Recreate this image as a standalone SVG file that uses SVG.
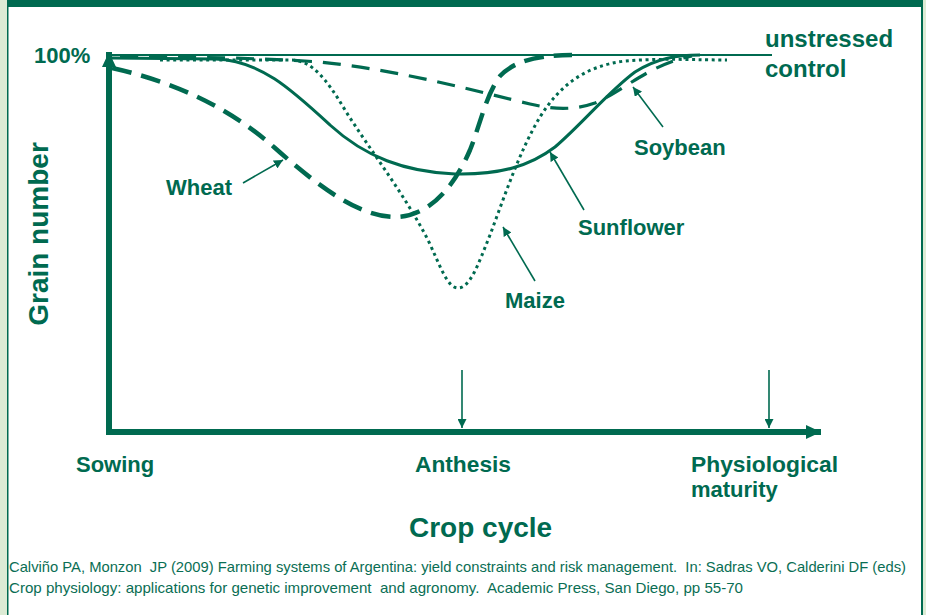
<svg xmlns="http://www.w3.org/2000/svg" width="926" height="615" viewBox="0 0 926 615">
<style>
.lbl{font-family:"Liberation Sans",Arial,sans-serif;font-weight:bold;fill:#006a50;}
.cite{font-family:"Liberation Sans Narrow","Liberation Sans",Arial,sans-serif;font-size:15px;fill:#0a6e54;white-space:pre;}
.curve{fill:none;stroke:#006a50;stroke-linejoin:round;}
.ann{fill:none;stroke:#006a50;stroke-width:1.6;}
</style>
<defs>
<marker id="ah" viewBox="0 0 10 10" refX="10" refY="5" markerWidth="9" markerHeight="9" markerUnits="userSpaceOnUse" orient="auto">
<path d="M0,0 L10,5 L0,10 z" fill="#006a50"/>
</marker>
<marker id="axh" viewBox="0 0 10 10" refX="10" refY="5" markerWidth="15" markerHeight="14" markerUnits="userSpaceOnUse" orient="auto" preserveAspectRatio="none">
<path d="M0,0 L10,5 L0,10 z" fill="#006a50"/>
</marker>
</defs>
<rect x="0" y="0" width="926" height="615" fill="#ffffff"/>
<!-- frame -->
<g id="frame">
<rect x="0" y="0" width="7" height="615" fill="#dcebd5"/>
<rect x="7" y="0" width="1.5" height="615" fill="#006a50"/>
<rect x="923" y="0" width="3" height="615" fill="#dcebd5"/>
<rect x="921" y="0" width="2" height="615" fill="#006a50"/>
<rect x="8" y="0" width="914" height="7" fill="#006a50"/>
</g>
<!-- axes -->
<g id="axes">
<line x1="109" y1="435" x2="109" y2="52" stroke="#006a50" stroke-width="6" marker-end="url(#axh)"/>
<line x1="106" y1="432" x2="821" y2="432" stroke="#006a50" stroke-width="6" marker-end="url(#axh)"/>
<line x1="112" y1="55" x2="772" y2="55" stroke="#006a50" stroke-width="2.2"/>
</g>
<!-- curves -->
<g id="curves">
<path id="sunflower" class="curve" stroke-width="3" d="M112,58 L215,59 C260,60 292,90 330,125 C365,157 405,172 455,174 C500,175 530,166 555,147 C582,124 608,92 635,72 C657,58 678,55 700,55"/>
<path id="wheat" class="curve" stroke-width="4.5" stroke-dasharray="20 10" d="M112,68 C175,82 230,108 275,148 C320,188 360,217 395,217 C430,217 455,185 470,150 C480,125 486,95 500,76 C515,60 540,55 572,55"/>
<path id="soybean" class="curve" stroke-width="3.2" stroke-dasharray="18 11" d="M120,57 C200,57 260,58 320,62 C400,70 480,92 530,104 C555,110 575,110 595,103 C625,90 650,64 692,56"/>
<path id="maize" class="curve" stroke-width="3" stroke-dasharray="3 3.6" d="M160,60 L292,60 C312,61 326,78 345,110 C370,150 405,195 428,240 C440,265 447,288 458,288 C470,288 478,265 490,235 C505,195 520,150 540,117 C560,85 585,66 625,61 C660,58 700,60 727,60"/>
</g>
<!-- connectors -->
<g id="connectors">
<line class="ann" x1="243" y1="183" x2="283" y2="160" marker-end="url(#ah)"/>
<line class="ann" x1="535" y1="281" x2="503" y2="227" marker-end="url(#ah)"/>
<line class="ann" x1="584" y1="210" x2="550" y2="152" marker-end="url(#ah)"/>
<line class="ann" x1="663" y1="127" x2="633" y2="87" marker-end="url(#ah)"/>
<line class="ann" x1="462" y1="370" x2="462" y2="428" marker-end="url(#ah)"/>
<line class="ann" x1="769" y1="370" x2="769" y2="428" marker-end="url(#ah)"/>
</g>
<!-- labels -->
<g id="label-100"><text class="lbl" x="34" y="63" font-size="22">100%</text></g>
<g id="label-control"><text class="lbl" x="765" y="47" font-size="24">unstressed</text><text class="lbl" x="765" y="77" font-size="24">control</text></g>
<g id="label-grain"><text class="lbl" font-size="28" text-anchor="middle" transform="translate(48,234) rotate(-90)">Grain number</text></g>
<g id="label-wheat"><text class="lbl" x="166" y="195" font-size="22">Wheat</text></g>
<g id="label-soybean"><text class="lbl" x="634" y="155" font-size="22">Soybean</text></g>
<g id="label-sunflower"><text class="lbl" x="578" y="235" font-size="22">Sunflower</text></g>
<g id="label-maize"><text class="lbl" x="505" y="308" font-size="22">Maize</text></g>
<g id="label-sowing"><text class="lbl" x="76" y="472" font-size="22">Sowing</text></g>
<g id="label-anthesis"><text class="lbl" x="415" y="472" font-size="22" textLength="96" lengthAdjust="spacingAndGlyphs">Anthesis</text></g>
<g id="label-maturity"><text class="lbl" x="691" y="472" font-size="22" textLength="147" lengthAdjust="spacingAndGlyphs">Physiological</text><text class="lbl" x="691" y="497" font-size="22">maturity</text></g>
<g id="label-cropcycle"><text class="lbl" x="409" y="537" font-size="28">Crop cycle</text></g>
<g id="citation">
<text class="cite" x="9" y="572" textLength="897" lengthAdjust="spacingAndGlyphs">Calviño PA, Monzon  JP (2009) Farming systems of Argentina: yield constraints and risk management.  In: Sadras VO, Calderini DF (eds)</text>
<text class="cite" x="9" y="593" textLength="734" lengthAdjust="spacingAndGlyphs">Crop physiology: applications for genetic improvement  and agronomy.  Academic Press, San Diego, pp 55-70</text>
</g>
</svg>
